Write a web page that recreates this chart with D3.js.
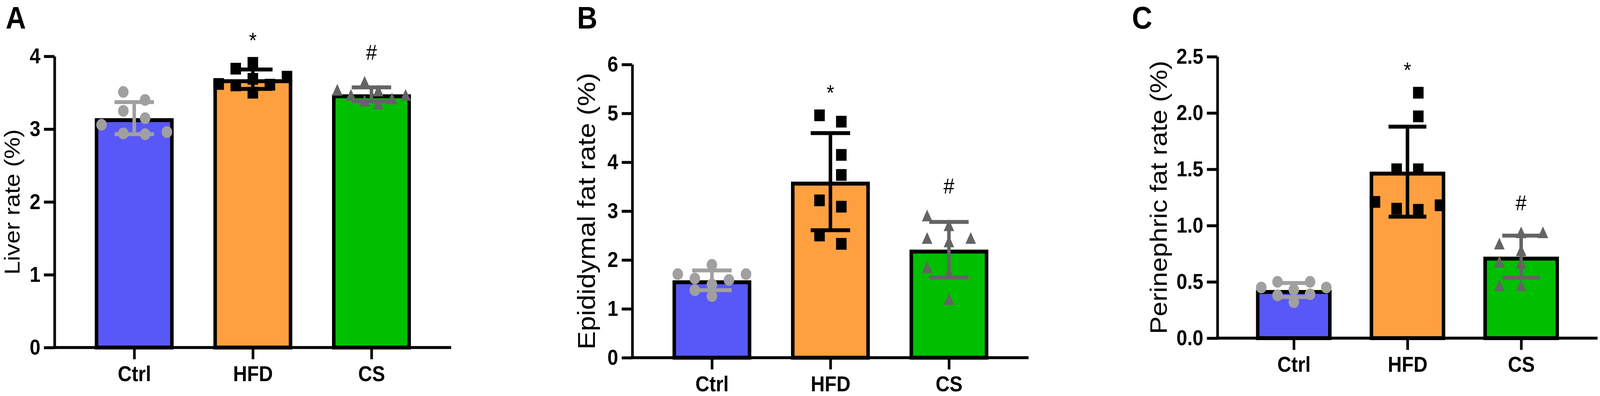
<!DOCTYPE html>
<html lang="en">
<head>
<meta charset="UTF-8">
<title>Liver and fat rates</title>
<script src="https://d3js.org/d3.v7.min.js"></script>
<style>
  html, body { margin: 0; padding: 0; background: #fff; overflow: hidden; }
  svg { display: block; width: 100vw; height: 100vh; }
  text { font-family: "Liberation Sans", Arial, Helvetica, sans-serif; fill: #000; }
  .axis path, .axis line { stroke: #000; stroke-width: 7.5px; }
  .axis text { font-weight: bold; }
</style>
</head>
<body>
<!-- drawn in a 4550 x 1013 frame, stretched to whatever the window really is -->
<svg id="chart" viewBox="0 0 4550 1013" preserveAspectRatio="none"></svg>
<script>
  // groups and significance marks
  const groups = ["Ctrl", "HFD", "CS"];
  const sigMarks = ["", "*", "#"];

  // individual animals (n = 8 per group)
  const liverCtrl = [3.15, 2.93, 3.51, 3.25, 3.06, 3.40, 2.94, 2.96];
  const liverHFD  = [3.91, 3.83, 3.69, 3.72, 3.62, 3.61, 3.60, 3.50];
  const liverCS   = [3.39, 3.53, 3.42, 3.47, 3.54, 3.35, 3.65, 3.47];

  const epiCtrl = [1.71, 1.59, 1.26, 1.50, 1.71, 1.38, 1.90, 1.62];
  const epiHFD  = [4.96, 4.83, 4.15, 3.74, 3.22, 3.09, 2.50, 2.33];
  const epiCS   = [2.91, 2.71, 2.45, 2.45, 2.38, 1.85, 1.74, 1.20];

  const periCtrl = [0.45, 0.43, 0.32, 0.50, 0.39, 0.50, 0.38, 0.45];
  const periHFD  = [2.18, 1.97, 1.50, 1.50, 1.21, 1.15, 1.14, 1.18];
  const periCS   = [0.94, 0.94, 0.84, 0.78, 0.68, 0.67, 0.47, 0.47];

  // y tick values
  const liverTicks = [0, 1, 2, 3, 4];
  const epiTicks   = [0, 1, 2, 3, 4, 5, 6];
  const periTicks  = [0, 0.5, 1.0, 1.5, 2.0, 2.5];

  // looks
  const barFill   = ["#5858f8", "#ffa040", "#00bf00"];
  const dotFill   = ["#a0a0a0", "#000000", "#646464"];
  const markSize  = 30;

  const panels = [
    { letter: "A", title: "Liver rate (%)", data: [liverCtrl, liverHFD, liverCS],
      ticks: liverTicks, fmt: d3.format("d"),
      x0: 155, x1: 1283, yTop: 144, yBot: 889, letterX: 16, titleX: 34, titleSize: 62 },
    { letter: "B", title: "Epididymal fat rate (%)", data: [epiCtrl, epiHFD, epiCS],
      ticks: epiTicks, fmt: d3.format("d"),
      x0: 1798, x1: 2925, yTop: 165, yBot: 915, letterX: 1641, titleX: 1668, titleSize: 70 },
    { letter: "C", title: "Perinephric fat rate (%)", data: [periCtrl, periHFD, periCS],
      ticks: periTicks, fmt: d3.format(".1f"),
      x0: 3462, x1: 4543, yTop: 145, yBot: 865, letterX: 3219, titleX: 3294, titleSize: 68 }
  ];

  const svg = d3.select("#chart");

  // column scatter like Prism: stack close values side by side, then squeeze into the bar
  function swarm(values, y, barW) {
    const order = d3.range(values.length).sort((a, b) => values[a] - values[b]);
    const slots = new Array(values.length);
    const placed = [];
    order.forEach(i => {
      const py = y(values[i]);
      for (let k = 0; ; k++) {
        const s = k === 0 ? 0 : (k % 2 ? -Math.ceil(k / 2) : k / 2);
        if (!placed.some(p => p.s === s && Math.abs(p.y - py) < markSize)) {
          slots[i] = s;
          placed.push({ s, y: py });
          break;
        }
      }
    });
    const lo = d3.min(slots), hi = d3.max(slots);
    const step = hi > lo ? Math.min(62, (barW - markSize) / (hi - lo)) : 0;
    return slots.map(s => (s - (lo + hi) / 2) * step);
  }

  function marker(gi) {
    const h = markSize / 2;
    if (gi === 0) return d3.symbol(d3.symbolCircle, Math.PI * h * h)();
    if (gi === 1) return d3.symbol(d3.symbolSquare, markSize * markSize)();
    return `M0,${-h}L${h},${h}L${-h},${h}Z`;
  }

  panels.forEach(p => {
    const g = svg.append("g");

    const x = d3.scalePoint().domain(groups).range([p.x0, p.x1]).padding(0.672);
    const y = d3.scaleLinear()
      .domain([0, p.ticks[p.ticks.length - 1]])
      .range([p.yBot, p.yTop]);
    const barW = x.step() * 0.665;
    const capW = barW / 2;

    // mean +/- SD from the dots
    const stats = p.data.map((vals, i) => ({
      group: groups[i], i, vals,
      mean: d3.mean(vals), sd: d3.deviation(vals)
    }));

    // bars, outline kept inside the mean
    g.selectAll("rect.bar").data(stats).join("rect")
      .attr("class", "bar")
      .attr("x", d => x(d.group) - barW / 2 + 5)
      .attr("width", barW - 10)
      .attr("y", d => y(d.mean) + 5)
      .attr("height", d => y(0) - y(d.mean) - 5)
      .attr("fill", d => barFill[d.i])
      .attr("stroke", "#000")
      .attr("stroke-width", 10);

    // error bars
    const eb = g.selectAll("g.err").data(stats).join("g")
      .attr("class", "err")
      .attr("stroke", d => dotFill[d.i])
      .attr("stroke-width", 10);
    eb.append("line")
      .attr("x1", d => x(d.group)).attr("x2", d => x(d.group))
      .attr("y1", d => y(d.mean + d.sd)).attr("y2", d => y(d.mean - d.sd));
    eb.append("line")
      .attr("x1", d => x(d.group) - capW / 2).attr("x2", d => x(d.group) + capW / 2)
      .attr("y1", d => y(d.mean + d.sd)).attr("y2", d => y(d.mean + d.sd));
    eb.append("line")
      .attr("x1", d => x(d.group) - capW / 2).attr("x2", d => x(d.group) + capW / 2)
      .attr("y1", d => y(d.mean - d.sd)).attr("y2", d => y(d.mean - d.sd));

    // individual points
    stats.forEach(s => {
      const offs = swarm(s.vals, y, barW);
      g.append("g").selectAll("path").data(s.vals).join("path")
        .attr("d", marker(s.i))
        .attr("transform", (v, k) => `translate(${x(s.group) + offs[k]},${y(v)})`)
        .attr("fill", dotFill[s.i]);
    });

    // significance marks above the highest dot
    g.selectAll("text.sig").data(stats.filter(d => sigMarks[d.i])).join("text")
      .attr("class", "sig")
      .attr("x", d => x(d.group))
      .attr("y", d => y(d3.max(d.vals)) - (sigMarks[d.i] === "*" ? 39 : 56))
      .attr("text-anchor", "middle")
      .attr("font-size", 56)
      .text(d => sigMarks[d.i]);

    // axes
    g.append("g").attr("class", "axis")
      .attr("transform", `translate(${p.x0},0)`)
      .call(d3.axisLeft(y).tickValues(p.ticks).tickFormat(p.fmt)
        .tickSize(30).tickSizeOuter(0).tickPadding(10))
      .call(a => a.selectAll("text").attr("font-size", 55));

    g.append("g").attr("class", "axis")
      .attr("transform", `translate(0,${p.yBot})`)
      .call(d3.axisBottom(x).tickSize(30).tickSizeOuter(0).tickPadding(17))
      .call(a => a.select(".domain").attr("d", `M${p.x0 - 3.75},0H${p.x1}`))
      .call(a => a.selectAll("text").attr("font-size", 55));

    // y title
    g.append("text")
      .attr("transform", `translate(${p.titleX},${(p.yTop + p.yBot) / 2}) rotate(-90)`)
      .attr("text-anchor", "middle")
      .attr("dominant-baseline", "central")
      .attr("font-size", p.titleSize)
      .text(p.title);

    // panel letter
    g.append("text")
      .attr("x", p.letterX)
      .attr("y", 73)
      .attr("font-size", 80)
      .attr("font-weight", "bold")
      .text(p.letter);
  });
</script>
</body>
</html>
